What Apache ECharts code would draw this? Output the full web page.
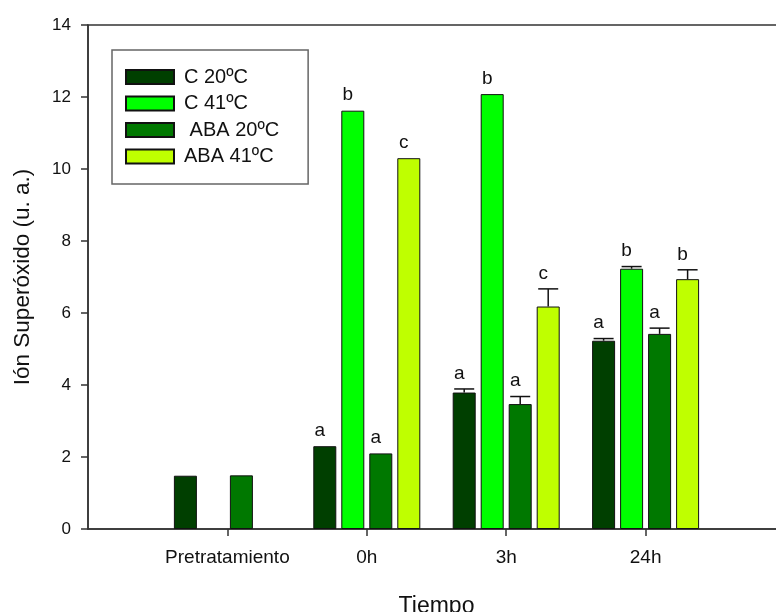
<!DOCTYPE html>
<html><head><meta charset="utf-8">
<script src="https://cdn.jsdelivr.net/npm/echarts@6/dist/echarts.min.js"></script>
<style>html,body{margin:0;padding:0;background:#fff}#c{width:776px;height:612px}</style>
</head><body><div id="c"></div>
<script>
// ---- data ----
const categories = ['', 'Pretratamiento', '0h', '3h', '24h', ''];
const seriesNames = ['C 20ºC', 'C 41ºC', ' ABA 20ºC', 'ABA 41ºC'];
const c20 = ['-', 1.48, 2.30, 3.79, 5.23, '-'];
const c41 = ['-', '-', 11.62, 12.08, 7.23, '-'];
const aba20 = ['-', 1.49, 2.10, 3.47, 5.42, '-'];
const aba41 = ['-', '-', 10.30, 6.18, 6.94, '-'];
const c20Err = [0, 0, 0, 0.10, 0.06, 0];
const c41Err = [0, 0, 0, 0, 0.06, 0];
const aba20Err = [0, 0, 0, 0.21, 0.16, 0];
const aba41Err = [0, 0, 0, 0.49, 0.26, 0];
const c20Let = ['', '', 'a', 'a', 'a', ''];
const c41Let = ['', '', 'b', 'b', 'b', ''];
const aba20Let = ['', '', 'a', 'a', 'a', ''];
const aba41Let = ['', '', 'c', 'c', 'b', ''];
const yTicks = { min: 0, max: 14, interval: 2 };

// ---- style ----
const FONT = "'Liberation Sans', Arial, sans-serif";
const colors = ['#003f00', '#00ff00', '#007800', '#bfff00'];
const BAR_W = 23, BAR_GAP = 5;
const values = [c20, c41, aba20, aba41];
const errs = [c20Err, c41Err, aba20Err, aba41Err];
const letters = [c20Let, c41Let, aba20Let, aba41Let];

const barSeries = values.map((vals, k) => ({
  type: 'bar', name: seriesNames[k], data: vals,
  barWidth: BAR_W, barGap: (BAR_GAP / BAR_W * 100) + '%',
  itemStyle: { color: colors[k], borderColor: '#111', borderWidth: 1 },
  z: 2
}));

const customSeries = values.map((vals, k) => ({
  type: 'custom',
  name: seriesNames[k] + '_err',
  z: 3,
  silent: true,
  data: vals.map((v, i) => [i, v, errs[k][i]]).filter(d => typeof d[1] === 'number'),
  renderItem: (params, api) => {
    const i = api.value(0), v = api.value(1), e = api.value(2);
    const letter = letters[k][i];
    const off = (k - 1.5) * (BAR_W + BAR_GAP);
    const base = api.coord([i, v]);
    const top = api.coord([i, v + e]);
    const x = base[0] + off;
    const children = [];
    if (e > 0) {
      children.push({ type: 'line', shape: { x1: x, y1: base[1], x2: x, y2: top[1] }, style: { stroke: '#111', lineWidth: 1.5 } });
      children.push({ type: 'line', shape: { x1: x - 10, y1: top[1], x2: x + 10, y2: top[1] }, style: { stroke: '#111', lineWidth: 1.5 } });
    }
    if (letter) {
      children.push({ type: 'text', style: { text: letter, x: x - 5, y: top[1] - 6, align: 'center', verticalAlign: 'bottom', font: '19px ' + FONT, fill: '#111' } });
    }
    return { type: 'group', children };
  }
}));

const chart = echarts.init(document.getElementById('c'), null, { renderer: 'canvas' });
chart.setOption({
  animation: false,
  backgroundColor: '#fff',
  textStyle: { fontFamily: FONT },
  grid: { left: 88, top: 25, right: -9, bottom: 83, show: true, borderColor: '#333', borderWidth: 1.5, outerBoundsMode: 'none', containLabel: false },
  legend: {
    data: seriesNames, orient: 'vertical', left: 112, top: 50,
    padding: [17, 29, 17.5, 13], itemWidth: 48, itemHeight: 14, itemGap: 6.5,
    borderColor: '#666', borderWidth: 1.5, icon: 'rect',
    textStyle: { fontSize: 20, color: '#111', padding: [0, 0, 0, 5], fontFamily: FONT }
  },
  xAxis: {
    type: 'category', data: categories, boundaryGap: false,
    axisLine: { lineStyle: { color: '#333', width: 1.5 } },
    axisTick: { length: 7, interval: (i, v) => v !== '', lineStyle: { color: '#333', width: 1.5 } },
    axisLabel: { interval: 0, fontSize: 19, color: '#111', margin: 19, fontFamily: FONT },
    name: 'Tiempo', nameLocation: 'middle', nameGap: 66,
    nameTextStyle: { fontSize: 23, color: '#111', fontFamily: FONT }
  },
  yAxis: {
    type: 'value', min: yTicks.min, max: yTicks.max, interval: yTicks.interval,
    axisLine: { show: true, lineStyle: { color: '#333', width: 1.5 } },
    axisTick: { show: true, length: 7, lineStyle: { color: '#333', width: 1.5 } },
    splitLine: { show: false },
    axisLabel: { fontSize: 17, color: '#111', margin: 17, fontFamily: FONT },
    name: 'Ión Superóxido (u. a.)', nameLocation: 'middle', nameRotate: 90, nameGap: 54,
    nameTextStyle: { fontSize: 22.5, color: '#111', fontFamily: FONT }
  },
  series: barSeries.concat(customSeries)
});
</script>
</body></html>
